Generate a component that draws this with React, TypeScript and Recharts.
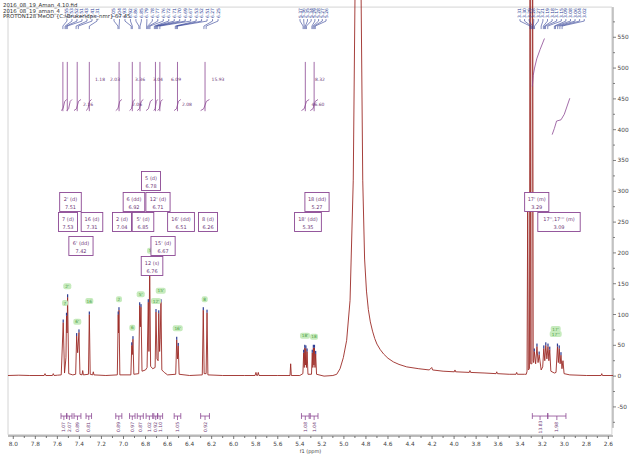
import React from 'react';
import {
  ComposedChart,
  Line,
  Scatter,
  XAxis,
  YAxis,
  ReferenceArea,
  ReferenceLine,
} from 'recharts';

const FONT = '"DejaVu Sans", Verdana, sans-serif';
const TRACE = '#9c2a26';
const PURPLE = '#8b4793';
const PURPLE_TEXT = '#6e3777';
const BLUE = '#2d3c94';

const header = [
  '2016_08_19_Aman_4.10.fid',
  '2016_08_19_aman_4',
  'PROTON128 MeOD {C:\\Bruker\\dpx_nmr} 67 45',
];

// 1H trace as [ppm, intensity], downfield to upfield
const traceDownfield = [
  [8.048, 1], [7.95, 1.5], [7.85, 1], [7.72, 1], [7.712, 4], [7.705, 1],
  [7.645, 1], [7.637, 4], [7.63, 1], [7.6, 1.5],
];
const traceAromatic = [
  [7.565, 2], [7.547, 87], [7.535, 5], [7.522, 30], [7.517, 98], [7.512, 70], [7.507, 128], [7.497, 4], [7.46, 2],
  [7.434, 3], [7.425, 65], [7.416, 38], [7.404, 71], [7.395, 3], [7.376, 2], [7.37, 9], [7.364, 2],
  [7.318, 3], [7.31, 100], [7.302, 3], [7.28, 2], [7.274, 7], [7.268, 2], [7.16, 1],
  [7.056, 2], [7.048, 100], [7.045, 70], [7.041, 107], [7.033, 2],
  [6.933, 2], [6.925, 50], [6.92, 35], [6.914, 60], [6.906, 3],
  [6.862, 4], [6.853, 115], [6.847, 80], [6.841, 112], [6.832, 8], [6.8, 10],
  [6.786, 14], [6.775, 120], [6.769, 40], [6.762, 182], [6.754, 16], [6.735, 12],
  [6.713, 14], [6.705, 104], [6.696, 28], [6.686, 25], [6.68, 102], [6.672, 40], [6.667, 60], [6.66, 120],
  [6.652, 10], [6.63, 6], [6.6, 2],
  [6.526, 3], [6.517, 59], [6.51, 28], [6.503, 49], [6.495, 3], [6.4, 1],
  [6.285, 2], [6.276, 107], [6.268, 4], [6.25, 4], [6.242, 103], [6.234, 2], [6.1, 1],
];
const traceOlefinic = [
  [5.9, 1], [5.806, 1], [5.798, 6], [5.791, 1], [5.784, 1], [5.777, 6], [5.77, 1], [5.6, 1],
  [5.489, 1], [5.483, 20], [5.477, 1], [5.4, 1],
  [5.372, 4], [5.365, 38], [5.36, 14], [5.355, 46], [5.35, 18], [5.345, 45], [5.34, 14], [5.334, 40], [5.326, 3],
  [5.294, 3], [5.287, 38], [5.282, 14], [5.277, 46], [5.272, 18], [5.267, 46], [5.262, 14], [5.256, 36], [5.248, 3],
  [5.18, 0],
];
const traceSolvent = [
  [5.1, 1], [5.065, 3], [5.035, 12], [5.005, 30], [4.975, 58], [4.944, 123], [4.915, 318], [4.899, 620],
  [4.888, 1400], [4.872, 3000], [4.856, 1400], [4.844, 620], [4.829, 318], [4.812, 190], [4.795, 138],
  [4.778, 108], [4.76, 88], [4.74, 73], [4.72, 61], [4.7, 52], [4.67, 43], [4.64, 36], [4.6, 29],
  [4.55, 23], [4.5, 19], [4.43, 15], [4.32, 12], [4.225, 10],
  [4.203, 14], [4.195, 10], [4.1, 8], [3.998, 7], [3.992, 10], [3.986, 7], [3.862, 6], [3.856, 9],
  [3.85, 6], [3.72, 5], [3.619, 4], [3.613, 7], [3.607, 4], [3.5, 3], [3.438, 3], [3.432, 6], [3.426, 3],
  [3.36, 3],
];
const traceAliphatic = [
  [3.345, 3], [3.338, 8], [3.332, 286], [3.326, 10], [3.316, 12], [3.31, 900], [3.305, 20], [3.294, 20],
  [3.288, 900], [3.282, 25], [3.278, 22], [3.272, 40], [3.26, 20], [3.248, 48], [3.238, 22], [3.228, 35],
  [3.21, 10], [3.196, 15], [3.186, 45], [3.177, 25], [3.168, 50], [3.158, 28], [3.148, 48], [3.14, 25],
  [3.132, 43], [3.122, 8], [3.09, 5],
  [3.075, 6], [3.062, 48], [3.054, 22], [3.046, 45], [3.038, 20], [3.03, 34], [3.021, 12], [3.012, 25],
  [3.002, 4], [2.95, 2], [2.8, 1], [2.666, 1], [2.66, 4], [2.654, 1], [2.558, 1],
];

// peak picking, one list per label block
const picksAromaticA = [7.55, 7.53, 7.52, 7.51, 7.43, 7.41, 7.31];
const picksAromaticB = [
  7.05, 7.04, 6.93, 6.92, 6.86, 6.85, 6.79, 6.78, 6.77, 6.76, 6.72, 6.71, 6.7, 6.69, 6.67, 6.53, 6.52, 6.51, 6.27, 6.25,
];
const picksOlefinic = [5.37, 5.36, 5.35, 5.34, 5.29, 5.28, 5.27, 5.26];
const picksAliphatic = [3.31, 3.3, 3.29, 3.28, 3.27, 3.21, 3.19, 3.18, 3.17, 3.15, 3.09, 3.08, 3.06, 3.04, 3.02];

// multiplet reports
const multipletName = [
  '5 (d)', "2' (d)", '6 (dd)', "12' (d)", '7 (d)', '16 (d)', '2 (d)', "5' (d)", "16' (dd)", '8 (d)',
  "6' (dd)", "15' (d)", '12 (s)', '18 (dd)', "18' (dd)", "17' (m)", "17'',17''' (m)",
];
const multipletShift = [6.78, 7.51, 6.92, 6.71, 7.53, 7.31, 7.04, 6.85, 6.51, 6.26, 7.42, 6.67, 6.76, 5.27, 5.35, 3.29, 3.09];

// integrals
const integralFrom = [7.567, 7.515, 7.449, 7.34, 7.07, 6.945, 6.875, 6.795, 6.725, 6.69, 6.54, 6.3, 5.385, 5.305, 3.29, 3.15];
const integralTo = [7.515, 7.467, 7.386, 7.29, 7.015, 6.895, 6.82, 6.735, 6.69, 6.645, 6.48, 6.22, 5.315, 5.235, 3.15, 2.985];
const integralValue = ['1.07', '2.07', '0.89', '0.81', '0.89', '0.97', '0.87', '1.02', '0.92', '1.10', '1.05', '0.92', '1.08', '1.04', '13.83', '1.98'];
const integralStepAt = [7.55, 7.51, 7.42, 7.31, 7.04, 6.92, 6.85, 6.71, 6.67, 6.51, 6.26, 5.35, 5.27];
const integralNote = ['1.18', '2.03', '3.36', '3.04', '6.09', '15.93', '8.32', '2.16', '2.06', '2.08', '46.60'];
const integralCurveMeOD = [[3.29, 470], [3.282, 488], [3.27, 500], [3.25, 515], [3.22, 530], [3.18, 548]];
const integralCurveH17 = [[3.11, 392], [3.09, 402], [3.07, 414], [3.03, 416], [3.0, 425], [2.95, 451]];

// atom assignments
const assignName = ["2'", '7', "6'", '16', '2', '6', "5'", "12'", "15'", "16'", '8', '5', "18'", '18', "17'", "17''"];

// axis ticks
const ppmTicks = [
  '8.0', '7.8', '7.6', '7.4', '7.2', '7.0', '6.8', '6.6', '6.4', '6.2', '6.0', '5.8', '5.6', '5.4',
  '5.2', '5.0', '4.8', '4.6', '4.4', '4.2', '4.0', '3.8', '3.6', '3.4', '3.2', '3.0', '2.8', '2.6',
];
const intensityTicks = [
  -75, -50, -25, 0, 25, 50, 75, 100, 125, 150, 175, 200, 225, 250, 275, 300, 325, 350, 375, 400,
  425, 450, 475, 500, 525, 550, 575,
];

// annotation placement
const pickSpan = [[7.513, 7.24], [7.086, 6.142], [5.398, 5.162], [3.402, 2.819]];
const multipletBoxAt = [
  [6.75, 316.7], [7.481, 282.6], [6.905, 282.6], [6.687, 282.6], [7.504, 250.1], [7.286, 250.1],
  [7.014, 250.1], [6.823, 250.1], [6.478, 250.1], [6.233, 250.1], [7.386, 211.2], [6.641, 211.2],
  [6.741, 178.7], [5.244, 282.6], [5.326, 250.1], [3.25, 282.6], [3.048, 250.1],
];
const assignTagAt = [
  [7.51, 146], [7.531, 118.6], [7.419, 88.3], [7.31, 121.9], [7.041, 124.7], [6.92, 78.6], [6.844, 132.8],
  [6.705, 121.9], [6.662, 138.6], [6.508, 77.6], [6.263, 124.7], [6.759, 203.5], [5.353, 65.6], [5.271, 64],
  [3.078, 76.4], [3.078, 68.3],
];
const integralNoteAt = [
  [7.213, 481], [7.077, 481], [6.85, 481], [6.687, 481], [6.523, 481], [6.142, 481], [5.217, 481],
  [7.322, 441], [6.877, 441], [6.424, 441], [5.235, 441],
];

const Y_MIN = -97.2;
const Y_MAX = 610.5;

type Row = { ppm: number; v: number | null; text?: string; shift?: number };

const toRows = (pts: number[][]): Row[] => pts.map(([ppm, v]) => ({ ppm, v }));

const spectrum = toRows([...traceDownfield, ...traceAromatic, ...traceOlefinic, ...traceSolvent, ...traceAliphatic]);

// blue ticks on top of picked maxima
const peakTops = spectrum.filter((r, i) => {
  const v = r.v as number;
  const prev = spectrum[i - 1]?.v ?? 0;
  const next = spectrum[i + 1]?.v ?? 0;
  return v >= 30 && v <= 400 && v > (prev as number) && v > (next as number);
});

const pickLabels: Row[] = [];
const pickLinks: Row[] = [];
[picksAromaticA, picksAromaticB, picksOlefinic, picksAliphatic].forEach((group, gi) => {
  const [a, b] = pickSpan[gi];
  group.forEach((p, i) => {
    const at = a + ((b - a) * i) / (group.length - 1);
    pickLabels.push({ ppm: at, v: 589.3, text: p.toFixed(2) });
    pickLinks.push(
      { ppm: at, v: 579.6 },
      { ppm: at, v: 576.3 },
      { ppm: p, v: 568.2 },
      { ppm: p, v: 563.3 },
      { ppm: p, v: null },
    );
  });
});

const multipletRows: Row[] = multipletName.map((text, i) => ({
  ppm: multipletBoxAt[i][0],
  v: multipletBoxAt[i][1],
  text,
  shift: multipletShift[i],
}));

const assignRows: Row[] = assignName.map((text, i) => ({ ppm: assignTagAt[i][0], v: assignTagAt[i][1], text }));

const bracketRows: Row[] = integralFrom.flatMap((a, i) => {
  const b = integralTo[i];
  const m = (a + b) / 2;
  return [
    { ppm: a, v: -60 }, { ppm: a, v: -69.6 }, { ppm: a, v: null },
    { ppm: a, v: -64.8 }, { ppm: b, v: -64.8 }, { ppm: b, v: null },
    { ppm: b, v: -60 }, { ppm: b, v: -69.6 }, { ppm: b, v: null },
    { ppm: m, v: -64.8 }, { ppm: m, v: -71.3 }, { ppm: m, v: null },
  ];
});
const bracketLabels: Row[] = integralFrom.map((a, i) => ({
  ppm: (a + integralTo[i]) / 2,
  v: -82.6,
  text: integralValue[i],
}));

// integral curves: steep steps near the top plus the small S curves below them
const integralRows: Row[] = [
  ...integralStepAt.flatMap((p) => [{ ppm: p, v: 430 }, { ppm: p, v: 510 }, { ppm: p, v: null }]),
  ...integralFrom.slice(0, 14).flatMap((a, i) => {
    const b = integralTo[i];
    const d = a - b;
    return [
      { ppm: a, v: 431 },
      { ppm: a - d * 0.35, v: 434 },
      { ppm: a - d * 0.65, v: 446 },
      { ppm: b, v: 449 },
      { ppm: b, v: null },
    ];
  }),
  ...toRows(integralCurveMeOD),
  { ppm: 3.18, v: null },
  ...toRows(integralCurveH17),
];
const integralNotes: Row[] = integralNote.map((text, i) => ({ ppm: integralNoteAt[i][0], v: integralNoteAt[i][1], text }));

const ppmMajor = ppmTicks.map(Number);
const ppmMinor = ppmMajor.slice(1).map((v) => +(v + 0.1).toFixed(1));
const ppmAllTicks = [...ppmMajor, ...ppmMinor];

function PpmTick({ x, y, payload }: any) {
  const major = Math.round(payload.value * 10) % 2 === 0;
  return (
    <g>
      <line x1={x} x2={x} y1={y} y2={y + (major ? 3 : 2)} stroke="#555" strokeWidth={0.8} />
      {major && (
        <text x={x} y={y + 10} textAnchor="middle" fontSize={5.8} fill="#444" fontFamily={FONT}>
          {payload.value.toFixed(1)}
        </text>
      )}
    </g>
  );
}

function IntensityTick({ x, y, payload }: any) {
  const major = payload.value % 50 === 0;
  return (
    <g>
      <line x1={x} x2={x + (major ? 3 : 2)} y1={y} y2={y} stroke="#666" strokeWidth={0.8} />
      {major && (
        <text x={x + 4.5} y={y + 2} textAnchor="start" fontSize={5.8} fill="#444" fontFamily={FONT}>
          {payload.value}
        </text>
      )}
    </g>
  );
}

const PeakTop = ({ cx, cy }: any) => <rect x={cx - 0.6} y={cy - 3} width={1.2} height={3} fill={BLUE} />;

const PickLabel = ({ cx, cy, payload }: any) => (
  <text
    x={cx}
    y={cy}
    transform={`rotate(-90 ${cx} ${cy})`}
    textAnchor="middle"
    dominantBaseline="central"
    fontSize={4.5}
    fill={BLUE}
    fontFamily={FONT}
  >
    {payload.text}
  </text>
);

const MultipletBox = ({ cx, cy, payload }: any) => {
  const w = payload.text.length * 2.6 + 6;
  return (
    <g>
      <rect x={cx - w / 2} y={cy - 9.5} width={w} height={19} fill="#fff" stroke={PURPLE} strokeWidth={0.9} />
      <text x={cx} y={cy - 1.5} textAnchor="middle" fontSize={5} fill={PURPLE_TEXT} fontFamily={FONT}>
        {payload.text}
      </text>
      <text x={cx} y={cy + 6.5} textAnchor="middle" fontSize={5} fill={PURPLE_TEXT} fontFamily={FONT}>
        {payload.shift.toFixed(2)}
      </text>
    </g>
  );
};

const AssignTag = ({ cx, cy, payload }: any) => {
  const w = payload.text.length * 2 + 4;
  return (
    <g>
      <rect x={cx - w / 2} y={cy - 3} width={w} height={6} rx={2} fill="#c6ebbd" />
      <text x={cx} y={cy + 1.6} textAnchor="middle" fontSize={4.3} fill="#4c9a43" fontFamily={FONT}>
        {payload.text}
      </text>
    </g>
  );
};

const IntegralLabel = ({ cx, cy, payload }: any) => (
  <text
    x={cx}
    y={cy}
    transform={`rotate(-90 ${cx} ${cy})`}
    textAnchor="middle"
    dominantBaseline="central"
    fontSize={4.5}
    fill={PURPLE_TEXT}
    fontFamily={FONT}
  >
    {payload.text}
  </text>
);

const IntegralNote = ({ cx, cy, payload }: any) => (
  <text x={cx} y={cy + 1.6} textAnchor="middle" fontSize={4.5} fill={PURPLE_TEXT} fontFamily={FONT}>
    {payload.text}
  </text>
);

export default function App() {
  return (
    <div style={{ position: 'absolute', left: 0, top: 0, width: 636, height: 454, background: '#fff' }}>
      <ComposedChart width={636} height={454} margin={{ top: 0, right: 0, bottom: 0, left: 8 }}>
        <XAxis
          type="number"
          dataKey="ppm"
          domain={[2.558, 8.048]}
          reversed
          allowDataOverflow
          ticks={ppmAllTicks}
          interval={0}
          height={18}
          tickSize={0}
          tickMargin={0}
          tick={<PpmTick />}
          axisLine={{ stroke: '#555', strokeWidth: 0.8 }}
          label={{ value: 'f1 (ppm)', position: 'insideBottom', offset: 1, fontSize: 5, fill: '#444', fontFamily: FONT }}
        />
        <YAxis
          type="number"
          orientation="right"
          domain={[Y_MIN, Y_MAX]}
          allowDataOverflow
          ticks={intensityTicks}
          interval={0}
          width={23}
          tickSize={0}
          tickMargin={0}
          tick={<IntensityTick />}
          axisLine={false}
        />
        <ReferenceArea x1={8.048} x2={2.568} y1={-95} y2={599} fill="none" stroke="#c9c9c9" strokeWidth={0.8} />
        <ReferenceLine
          segment={[{ x: 2.558, y: -84 }, { x: 2.558, y: 599 }]}
          stroke="#8a8a8a"
          strokeWidth={0.9}
        />
        <Line
          data={spectrum}
          dataKey="v"
          type="linear"
          stroke={TRACE}
          strokeWidth={0.9}
          dot={false}
          activeDot={false}
          isAnimationActive={false}
        />
        <Line
          data={pickLinks}
          dataKey="v"
          type="linear"
          stroke={BLUE}
          strokeWidth={0.6}
          dot={false}
          activeDot={false}
          isAnimationActive={false}
        />
        <Line
          data={integralRows}
          dataKey="v"
          type="linear"
          stroke={PURPLE}
          strokeWidth={0.8}
          dot={false}
          activeDot={false}
          isAnimationActive={false}
        />
        <Line
          data={bracketRows}
          dataKey="v"
          type="linear"
          stroke={PURPLE}
          strokeWidth={0.8}
          dot={false}
          activeDot={false}
          isAnimationActive={false}
        />
        <Scatter data={peakTops} dataKey="v" shape={<PeakTop />} isAnimationActive={false} />
        <Scatter data={assignRows} dataKey="v" shape={<AssignTag />} isAnimationActive={false} />
        <Scatter data={pickLabels} dataKey="v" shape={<PickLabel />} isAnimationActive={false} />
        <Scatter data={integralNotes} dataKey="v" shape={<IntegralNote />} isAnimationActive={false} />
        <Scatter data={bracketLabels} dataKey="v" shape={<IntegralLabel />} isAnimationActive={false} />
        <Scatter data={multipletRows} dataKey="v" shape={<MultipletBox />} isAnimationActive={false} />
      </ComposedChart>
      <svg width={220} height={22} style={{ position: 'absolute', left: 0, top: 0, pointerEvents: 'none' }}>
        {header.map((line, i) => (
          <text key={i} x={3} y={7 + i * 5.5} fontSize={5.4} fill="#333" fontFamily={FONT}>
            {line}
          </text>
        ))}
      </svg>
    </div>
  );
}
